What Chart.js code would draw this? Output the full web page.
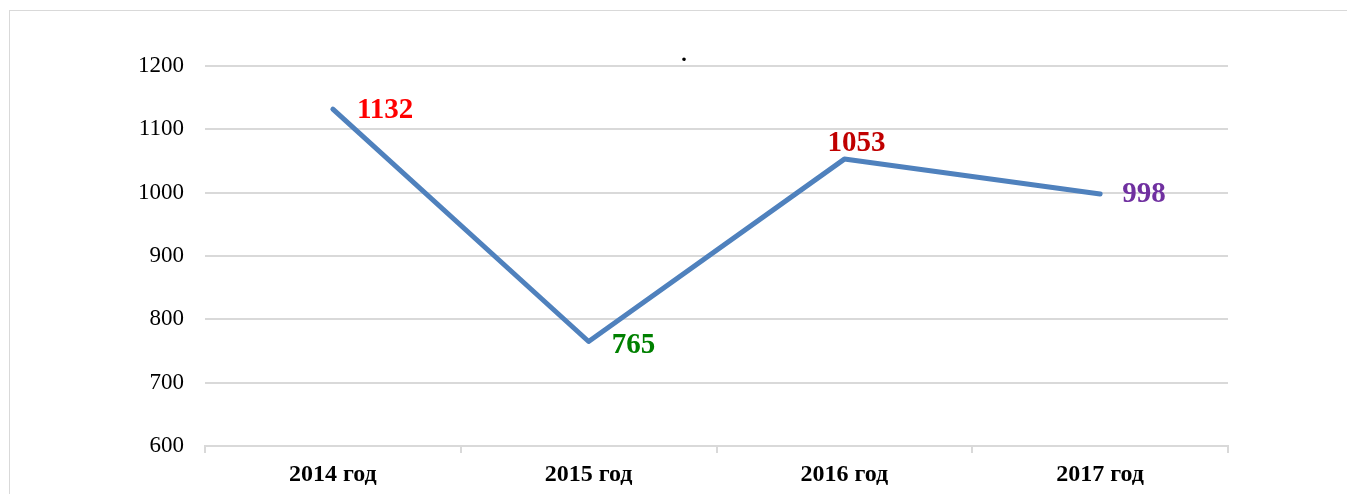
<!DOCTYPE html>
<html>
<head>
<meta charset="utf-8">
<script src="https://cdn.jsdelivr.net/npm/chart.js@4"></script>
<style>
  body { margin: 0; background: #fff; }
  #box {
    position: absolute; left: 9px; top: 10px;
    width: 1337px; height: 500px;
    border: 1px solid #d9d9d9;
  }
</style>
</head>
<body>
<div id="box"><canvas id="myChart" width="1337" height="483"></canvas></div>
<script>
// данные
const years = ['2014 год', '2015 год', '2016 год', '2017 год'];
const values = [1132, 765, 1053, 998];
const labelColors = ['#ff0000', '#008000', '#c00000', '#7030a0'];

// подписи значений рядом с точками
const valueLabels = {
  id: 'valueLabels',
  afterDatasetsDraw(chart) {
    const ctx = chart.ctx;
    const pts = chart.getDatasetMeta(0).data;
    const shift = [[24, 1, 'left'], [23, 4, 'left'], [12, -16, 'center'], [22, 1, 'left']];
    ctx.save();
    ctx.font = 'bold 29px "Liberation Serif", "Times New Roman", serif';
    ctx.textBaseline = 'middle';
    pts.forEach((p, i) => {
      ctx.fillStyle = labelColors[i];
      ctx.textAlign = shift[i][2];
      ctx.fillText(String(values[i]), p.x + shift[i][0], p.y + shift[i][1]);
    });
    ctx.restore();
  }
};

const ctx = document.getElementById('myChart');

new Chart(ctx, {
  type: 'line',
  data: {
    labels: years,
    datasets: [{
      data: values,
      borderColor: '#4f81bd',
      borderWidth: 5,
      borderCapStyle: 'round',
      borderJoinStyle: 'round',
      pointRadius: 0,
      tension: 0
    }]
  },
  options: {
    responsive: false,
    animation: false,
    layout: { padding: { left: 130, right: 119, top: 0, bottom: 0 } },
    plugins: {
      legend: { display: false },
      tooltip: { enabled: false },
      title: {
        display: true,
        text: '.',
        color: '#000',
        font: { family: '"Liberation Serif", serif', size: 22, weight: 'bold', lineHeight: 1 },
        padding: { top: 33, bottom: 0 }
      }
    },
    scales: {
      x: {
        offset: true,
        grid: {
          offset: true,
          drawOnChartArea: false,
          drawTicks: true,
          tickLength: 7,
          color: '#d9d9d9',
          lineWidth: 2
        },
        border: { color: '#d9d9d9', width: 2 },
        ticks: {
          color: '#000',
          padding: 7,
          maxRotation: 0,
          font: { family: '"Liberation Serif", serif', size: 24, weight: 'bold' }
        },
        afterFit(scale) { scale.height = 48; }
      },
      y: {
        min: 600,
        max: 1200,
        grid: { color: '#d9d9d9', lineWidth: 2, drawTicks: false },
        border: { display: false },
        ticks: {
          stepSize: 100,
          color: '#000',
          padding: 21,
          font: { family: '"Liberation Serif", serif', size: 23 },
          callback: (v) => String(v)
        },
        afterFit(scale) { scale.width = 65; }
      }
    }
  },
  plugins: [valueLabels]
});
</script>
</body>
</html>
